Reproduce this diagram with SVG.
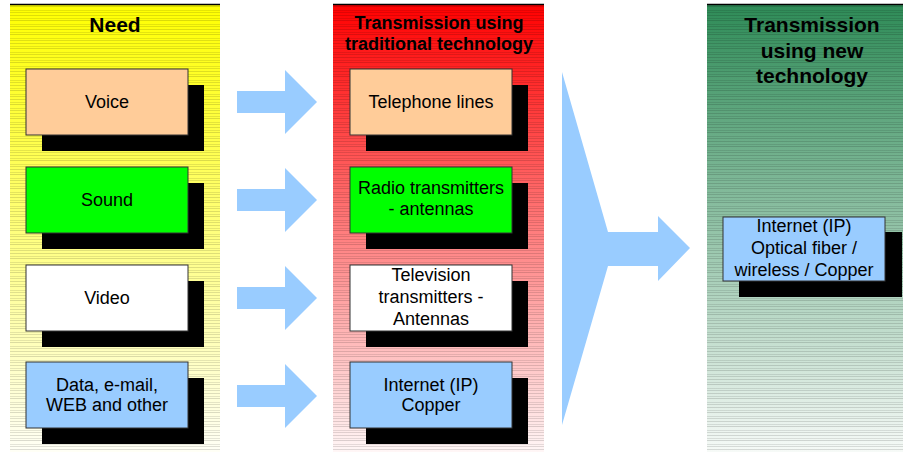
<svg xmlns="http://www.w3.org/2000/svg" width="903" height="454" viewBox="0 0 903 454">
<style>
  text { font-family: "Liberation Sans", Arial, sans-serif; fill: #000; text-anchor: middle; }
  .head { font-weight: bold; font-size: 18px; }
  .head2 { font-weight: bold; font-size: 21px; }
  .lbl { font-size: 18px; }
  .box { stroke: #333; stroke-width: 1; }
  .shadow { fill: #000; }
  .arrow { fill: #99CCFF; }
  .topline { stroke: #000; stroke-width: 1.5; }
</style>
<defs>
  <linearGradient id="gY" x1="0" y1="0" x2="0" y2="1">
    <stop offset="0" stop-color="#FFFF00"/>
    <stop offset="1" stop-color="#FFFFF6"/>
  </linearGradient>
  <linearGradient id="gR" x1="0" y1="0" x2="0" y2="1">
    <stop offset="0" stop-color="#FF0000"/>
    <stop offset="1" stop-color="#FFF6F6"/>
  </linearGradient>
  <linearGradient id="gG" x1="0" y1="0" x2="0" y2="1">
    <stop offset="0" stop-color="#2E8B57"/>
    <stop offset="1" stop-color="#F6FAF7"/>
  </linearGradient>
  <pattern id="stripes" x="0" y="0" width="10" height="14" patternUnits="userSpaceOnUse">
    <rect x="0" y="1" width="10" height="1" fill="#000" fill-opacity="0.13"/>
    <rect x="0" y="4" width="10" height="1" fill="#000" fill-opacity="0.10"/>
    <rect x="0" y="6" width="10" height="1" fill="#000" fill-opacity="0.14"/>
    <rect x="0" y="10" width="10" height="1" fill="#000" fill-opacity="0.10"/>
    <rect x="0" y="12" width="10" height="1" fill="#000" fill-opacity="0.12"/>
  </pattern>
</defs>

<g id="panel-need">
  <rect x="10" y="4" width="210" height="448" fill="url(#gY)"/>
  <rect x="10" y="4" width="210" height="448" fill="url(#stripes)"/>
  <line class="topline" x1="10" y1="4.5" x2="220" y2="4.5"/>
  <text class="head2" x="115" y="32">Need</text>
</g>
<g id="panel-traditional">
  <rect x="333" y="4" width="211" height="448" fill="url(#gR)"/>
  <rect x="333" y="4" width="211" height="448" fill="url(#stripes)"/>
  <line class="topline" x1="333" y1="4.5" x2="544" y2="4.5"/>
  <text class="head" x="439" y="29">Transmission using</text>
  <text class="head" x="439" y="50">traditional technology</text>
</g>
<g id="panel-new">
  <rect x="707" y="4" width="196" height="448" fill="url(#gG)"/>
  <rect x="707" y="4" width="196" height="448" fill="url(#stripes)"/>
  <line class="topline" x1="707" y1="4.5" x2="903" y2="4.5"/>
  <text class="head2" x="812" y="32">Transmission</text>
  <text class="head2" x="812" y="58">using new</text>
  <text class="head2" x="812" y="83">technology</text>
</g>

<g id="connectors">
  <polygon class="arrow" points="237,91 285,91 285,70 317,102 285,134 285,113 237,113"/>
  <polygon class="arrow" points="237,189 285,189 285,168 317,200 285,232 285,211 237,211"/>
  <polygon class="arrow" points="237,287 285,287 285,266 317,298 285,330 285,309 237,309"/>
  <polygon class="arrow" points="237,385 285,385 285,364 317,396 285,428 285,407 237,407"/>
  <polygon class="arrow" points="562,72 608,232 658,232 658,216 690,248 658,281 658,266 608,266 562,425"/>
</g>

<g id="voice">
  <rect class="shadow" x="42" y="85" width="162" height="66"/>
  <rect class="box" x="26" y="69" width="162" height="66" fill="#FFCC99"/>
  <text class="lbl" x="107" y="108">Voice</text>
</g>
<g id="sound">
  <rect class="shadow" x="42" y="183" width="162" height="66"/>
  <rect class="box" x="26" y="167" width="162" height="66" fill="#00FF00"/>
  <text class="lbl" x="107" y="206">Sound</text>
</g>
<g id="video">
  <rect class="shadow" x="42" y="281" width="162" height="66"/>
  <rect class="box" x="26" y="265" width="162" height="66" fill="#FFFFFF"/>
  <text class="lbl" x="107" y="304">Video</text>
</g>
<g id="data">
  <rect class="shadow" x="42" y="378" width="162" height="66"/>
  <rect class="box" x="26" y="362" width="162" height="66" fill="#99CCFF"/>
  <text class="lbl" x="107" y="391">Data, e-mail,</text>
  <text class="lbl" x="107" y="411">WEB and other</text>
</g>

<g id="telephone">
  <rect class="shadow" x="366" y="85" width="162" height="66"/>
  <rect class="box" x="350" y="69" width="162" height="66" fill="#FFCC99"/>
  <text class="lbl" x="431" y="108">Telephone lines</text>
</g>
<g id="radio">
  <rect class="shadow" x="366" y="183" width="162" height="66"/>
  <rect class="box" x="350" y="167" width="162" height="66" fill="#00FF00"/>
  <text class="lbl" x="431" y="194">Radio transmitters</text>
  <text class="lbl" x="431" y="215">- antennas</text>
</g>
<g id="television">
  <rect class="shadow" x="366" y="281" width="162" height="66"/>
  <rect class="box" x="350" y="265" width="162" height="66" fill="#FFFFFF"/>
  <text class="lbl" x="431" y="281">Television</text>
  <text class="lbl" x="431" y="303">transmitters -</text>
  <text class="lbl" x="431" y="325">Antennas</text>
</g>
<g id="internet-copper">
  <rect class="shadow" x="366" y="378" width="162" height="66"/>
  <rect class="box" x="350" y="362" width="162" height="66" fill="#99CCFF"/>
  <text class="lbl" x="431" y="391">Internet (IP)</text>
  <text class="lbl" x="431" y="411">Copper</text>
</g>

<g id="internet-new">
  <rect class="shadow" x="739" y="232" width="163" height="65"/>
  <rect class="box" x="723" y="217" width="162" height="64" fill="#99CCFF"/>
  <text class="lbl" x="804" y="232">Internet (IP)</text>
  <text class="lbl" x="804" y="254">Optical fiber /</text>
  <text class="lbl" x="804" y="276">wireless / Copper</text>
</g>
</svg>
